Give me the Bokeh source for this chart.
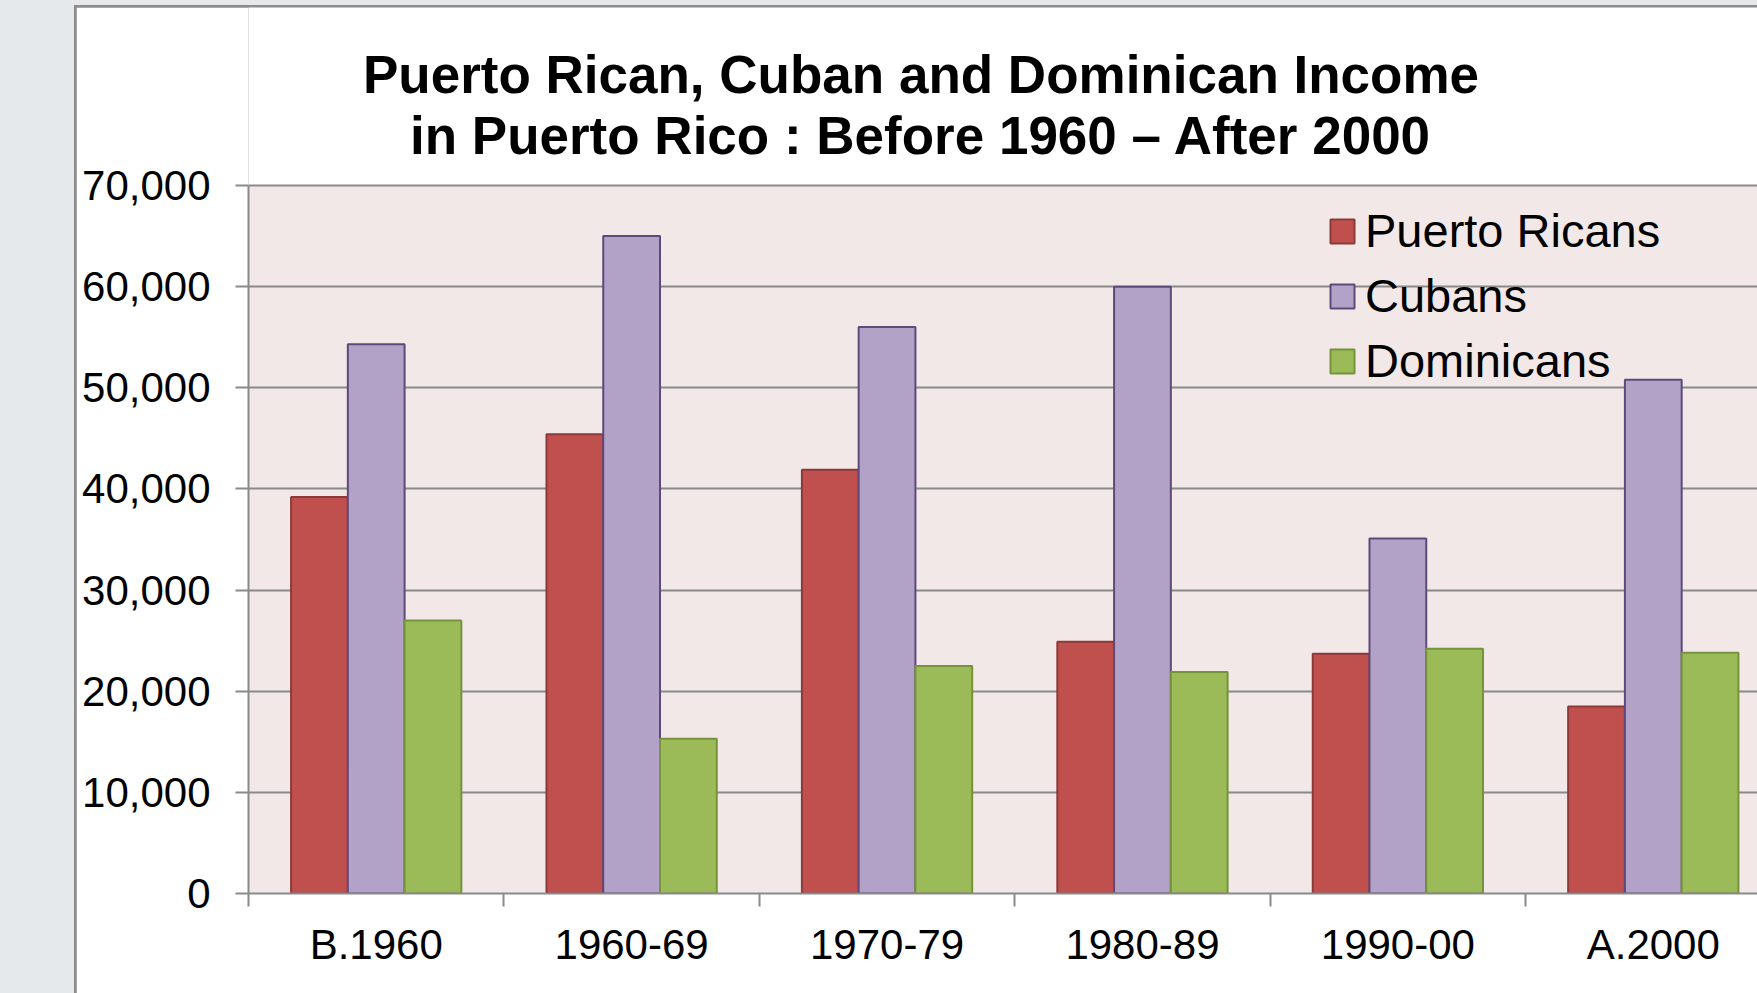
from bokeh.plotting import figure
from bokeh.models import Range1d, FixedTicker, Legend, LegendItem, NumeralTickFormatter, BoxAnnotation
from bokeh.core.properties import value
from bokeh.layouts import column
from bokeh.embed import file_html
from bokeh.resources import INLINE

# ---- data ----
categories = ["B.1960", "1960-69", "1970-79", "1980-89", "1990-00", "A.2000"]
puerto_ricans = [39200, 45400, 41900, 24900, 23700, 18500]
cubans = [54300, 65000, 56000, 60000, 35100, 50800]
dominicans = [27000, 15300, 22500, 21900, 24200, 23800]
series_names = ["Puerto Ricans", "Cubans", "Dominicans"]
y_ticks = [0, 10000, 20000, 30000, 40000, 50000, 60000, 70000]
title_lines = ["Puerto Rican, Cuban and Dominican Income",
               "in Puerto Rico : Before 1960 \u2013 After 2000"]

# ---- style ----
FONT = "Liberation Sans"
fills = ["#C0504D", "#B2A2C7", "#9BBB59"]
edges = ["#8C3A38", "#5F497A", "#76923C"]
GRID = "#8a8a8a"
W, H = 1681, 986
BOTTOM = 100
y_max = y_ticks[-1]
plot_px = 708                       # pixel height of the 0..70,000 plot area
frame_px = H - BOTTOM               # frame also holds the title strip above the plot area
y_end = y_max * frame_px / plot_px
px = y_end / frame_px               # data units per pixel

centers = [i + 0.5 for i in range(len(categories))]
bar_w = 1 / 4.5
offsets = [-bar_w, 0.0, bar_w]

p = figure(width=W, height=H, title=None,
           x_range=Range1d(0, 5.908), y_range=Range1d(0, y_end),
           output_backend="svg", toolbar_location=None,
           min_border_left=172, min_border_right=0,
           min_border_top=0, min_border_bottom=BOTTOM,
           background_fill_color="white", border_fill_color="white",
           outline_line_color=None, margin=(2, 0, 0, 2))

# pink plot area (0 .. 70,000)
p.add_layout(BoxAnnotation(bottom=0, top=y_max, fill_color="#F2E8E8", fill_alpha=1,
                           line_color=None, level="image"))

# two-line chart title, each line centred
title_x = 2.633
title_baselines = [y_max + 111.3 * px, y_max + 50.0 * px]
p.text(x=[title_x] * 2, y=title_baselines, text=title_lines,
       text_font=value(FONT), text_font_size=value("53px"),
       text_font_style="bold", text_color="black",
       text_align="center", text_baseline="alphabetic")

renderers = []
for vals, off, fc, lc in zip([puerto_ricans, cubans, dominicans], offsets, fills, edges):
    xs = [c + off for c in centers]
    r = p.vbar(x=xs, top=vals, bottom=0, width=bar_w,
               fill_color=fc, line_color=lc, line_width=2)
    renderers.append(r)

# x axis
p.xaxis.ticker = FixedTicker(ticks=centers, minor_ticks=list(range(len(categories) + 1)))
p.xaxis.major_label_overrides = {c: lab for c, lab in zip(centers, categories)}
p.xaxis.major_tick_out = 0
p.xaxis.major_tick_in = 0
p.xaxis.minor_tick_out = 13
p.xaxis.minor_tick_in = 0
p.xaxis.minor_tick_line_color = GRID
p.xaxis.minor_tick_line_width = 2
p.xaxis.axis_line_color = GRID
p.xaxis.axis_line_width = 2
p.xaxis.major_label_text_font = FONT
p.xaxis.major_label_text_font_size = "42px"
p.xaxis.major_label_text_color = "black"
p.xaxis.major_label_standoff = 14
p.xgrid.visible = False

# y axis
p.yaxis.ticker = FixedTicker(ticks=y_ticks, minor_ticks=[])
p.yaxis.bounds = (0, y_max)
p.yaxis.formatter = NumeralTickFormatter(format="0,0")
p.yaxis.major_tick_out = 13
p.yaxis.major_tick_in = 0
p.yaxis.major_tick_line_color = GRID
p.yaxis.major_tick_line_width = 2
p.yaxis.minor_tick_out = 0
p.yaxis.minor_tick_in = 0
p.yaxis.axis_line_color = GRID
p.yaxis.axis_line_width = 2
p.yaxis.major_label_text_font = FONT
p.yaxis.major_label_text_font_size = "42px"
p.yaxis.major_label_text_color = "black"
p.yaxis.major_label_standoff = 25
p.ygrid.ticker = FixedTicker(ticks=y_ticks)
p.ygrid.grid_line_color = GRID
p.ygrid.grid_line_width = 2

legend = Legend(items=[LegendItem(label=n, renderers=[r]) for n, r in zip(series_names, renderers)],
                location=(1079, 505), orientation="vertical",
                background_fill_alpha=0, border_line_color=None,
                padding=0, margin=0, spacing=10, label_standoff=8,
                glyph_width=30, glyph_height=30, label_height=50,
                label_text_font=FONT, label_text_font_size="47px",
                label_text_color="black")
p.add_layout(legend)

inner = column(p, styles={"background-color": "#8c8c8c"}, margin=(5, 0, 0, 74),
               width=1683, height=988)
outer = column(inner, styles={"background-color": "#E6E9EC"}, width=1757, height=993)

open("out.html", "w").write(file_html(outer, INLINE))
